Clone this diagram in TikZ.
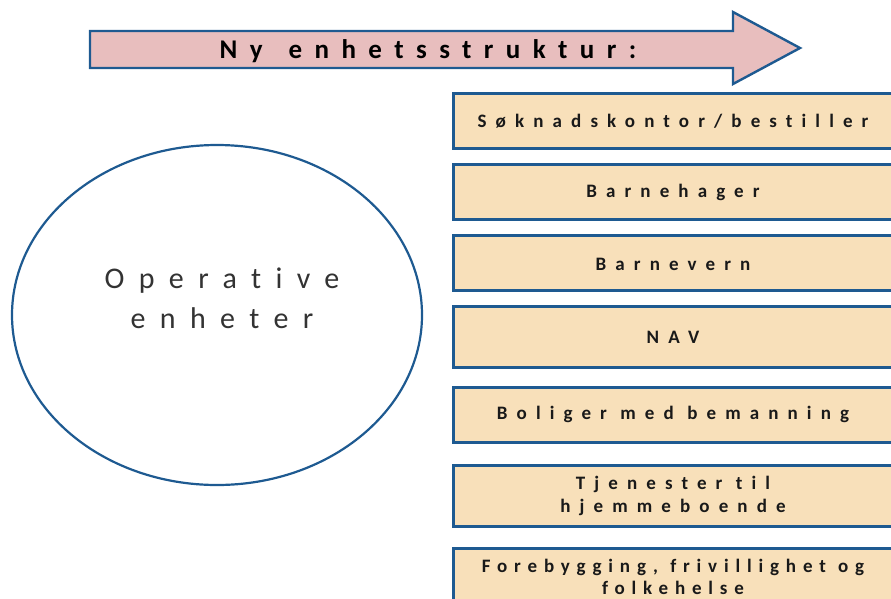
\documentclass[tikz,border=0pt]{standalone}
\usepackage{fontspec}
\setmainfont{Carlito}
\newfontfamily\boxfont[LetterSpace=48,WordSpace=1.3,Ligatures=NoCommon]{Carlito}
\newfontfamily\tightfont[LetterSpace=36,WordSpace=1.1,Ligatures=NoCommon]{Carlito}
\newfontfamily\titlefont[LetterSpace=46,WordSpace=1.4,Ligatures=NoCommon]{Carlito}
\newfontfamily\ellfont[LetterSpace=48,Ligatures=NoCommon]{Carlito}
\definecolor{arrowpink}{RGB}{232,190,190}
\definecolor{boxtan}{RGB}{248,224,186}
\definecolor{edgeblue}{RGB}{30,90,145}
\definecolor{txtdark}{RGB}{25,25,25}
\tikzset{
  unitbox/.style={draw=edgeblue, line width=3pt, fill=boxtan},
  unitlabel/.style={font=\boxfont\bfseries\fontsize{19}{23}\selectfont, text=txtdark, align=center, anchor=center, inner sep=0pt},
}
\begin{document}
\begin{tikzpicture}[x=1pt,y=-1pt]
\useasboundingbox (0,0) rectangle (891,598);
% title arrow
\draw[draw=edgeblue, line width=2.4pt, fill=arrowpink, line join=miter]
  (90,31) -- (733,31) -- (733,12) -- (800,48) -- (733,84) -- (733,68) -- (90,68) -- cycle;
\node[font=\titlefont\bfseries\fontsize{27}{30}\selectfont, text=black, inner sep=0pt] (title) at (428,51) {Ny enhetsstruktur:};
% ellipse
\draw[draw=edgeblue, line width=2.2pt] (217,315) ellipse [x radius=205, y radius=170];
\node[font=\ellfont\fontsize{30}{40}\selectfont, text=black!80, align=center, inner sep=0pt] (oper) at (222,298) {Operative\\enheter};
% boxes
\foreach \n/\t/\b in {b1/93/148, b2/164/219, b3/235/290, b4/306/367, b5/387/442, b6/465/526, b7/548/640}{
  \draw[unitbox] (453,\t) rectangle (897,\b);
}
\node[unitlabel] (l1) at (673,121) {Søknadskontor/bestiller};
\node[unitlabel] (l2) at (673,192) {Barnehager};
\node[unitlabel] (l3) at (673,264) {Barnevern};
\node[unitlabel] (l4) at (673,337) {NAV};
\node[unitlabel] (l5) at (673,414) {Boliger med bemanning};
\node[unitlabel] (l6) at (673,496) {Tjenester til\\hjemmeboende};
\node[unitlabel, font=\tightfont\bfseries\fontsize{19}{22}\selectfont] (l7) at (673,577) {Forebygging, frivillighet og\\folkehelse};
\end{tikzpicture}
\end{document}
